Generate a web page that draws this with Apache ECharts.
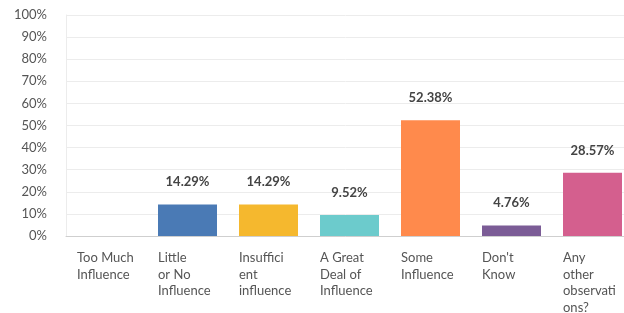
<!DOCTYPE html>
<html>
<head>
<meta charset="utf-8">
<script src="https://cdn.jsdelivr.net/npm/echarts@6/dist/echarts.min.js"></script>
<style>
html, body { margin: 0; padding: 0; background: #fff; }
#main { width: 624px; height: 313px; }
</style>
</head>
<body>
<div id="main"></div>
<script>
var categories = ['Too Much\nInfluence', 'Little\nor No\nInfluence', 'Insuffici\nent\ninfluence',
    'A Great\nDeal of\nInfluence', 'Some\nInfluence', 'Don\'t\nKnow', 'Any\nother\nobservati\nons?'];
var values = [0, 14.29, 14.29, 9.52, 52.38, 4.76, 28.57];
var colors = ['#4a7ab5', '#4a7ab5', '#f5b82e', '#6ccbcc', '#ff8a4c', '#7b5c96', '#d45f8e'];
var yTicks = [0, 10, 20, 30, 40, 50, 60, 70, 80, 90, 100];

~function () {
    var myChart = echarts.init(document.getElementById('main'));
    var font = 'Lato, "Open Sans", sans-serif';
    var option = {
        animation: false,
        grid: {
            left: 66,
            top: 15,
            width: 567,
            height: 221,
            outerBoundsMode: 'none',
            containLabel: false
        },
        xAxis: {
            type: 'category',
            data: categories,
            axisTick: {show: false},
            axisLine: {lineStyle: {color: '#cfcfcf'}},
            axisLabel: {
                interval: 0,
                margin: 14,
                color: '#555',
                fontFamily: font,
                fontSize: 13,
                lineHeight: 16.5,
                verticalAlign: 'top',
                formatter: function (v) {
                    return v.split('\n').map(function (s) {
                        return '{a|' + s + '}';
                    }).join('\n');
                },
                rich: {
                    a: {width: 59, align: 'left', fontSize: 13, lineHeight: 16.5, color: '#555', fontFamily: font}
                }
            }
        },
        yAxis: {
            type: 'value',
            min: yTicks[0],
            max: yTicks[yTicks.length - 1],
            interval: 10,
            axisLine: {show: true, lineStyle: {color: '#ececec'}},
            axisTick: {show: false},
            splitLine: {lineStyle: {color: '#ececec'}},
            axisLabel: {
                margin: 19,
                color: '#555',
                fontFamily: font,
                fontSize: 13,
                formatter: '{value}%'
            }
        },
        series: [
            {
                type: 'bar',
                barWidth: 59,
                data: values.map(function (v, i) {
                    return {value: v, itemStyle: {color: colors[i]}};
                }),
                label: {
                    show: true,
                    position: 'top',
                    distance: 16,
                    color: '#444',
                    fontFamily: font,
                    fontSize: 13,
                    fontWeight: 'bold',
                    formatter: function (p) {
                        return p.value ? p.value.toFixed(2) + '%' : '';
                    }
                }
            }
        ]
    };
    myChart.setOption(option);
}();
</script>
</body>
</html>
